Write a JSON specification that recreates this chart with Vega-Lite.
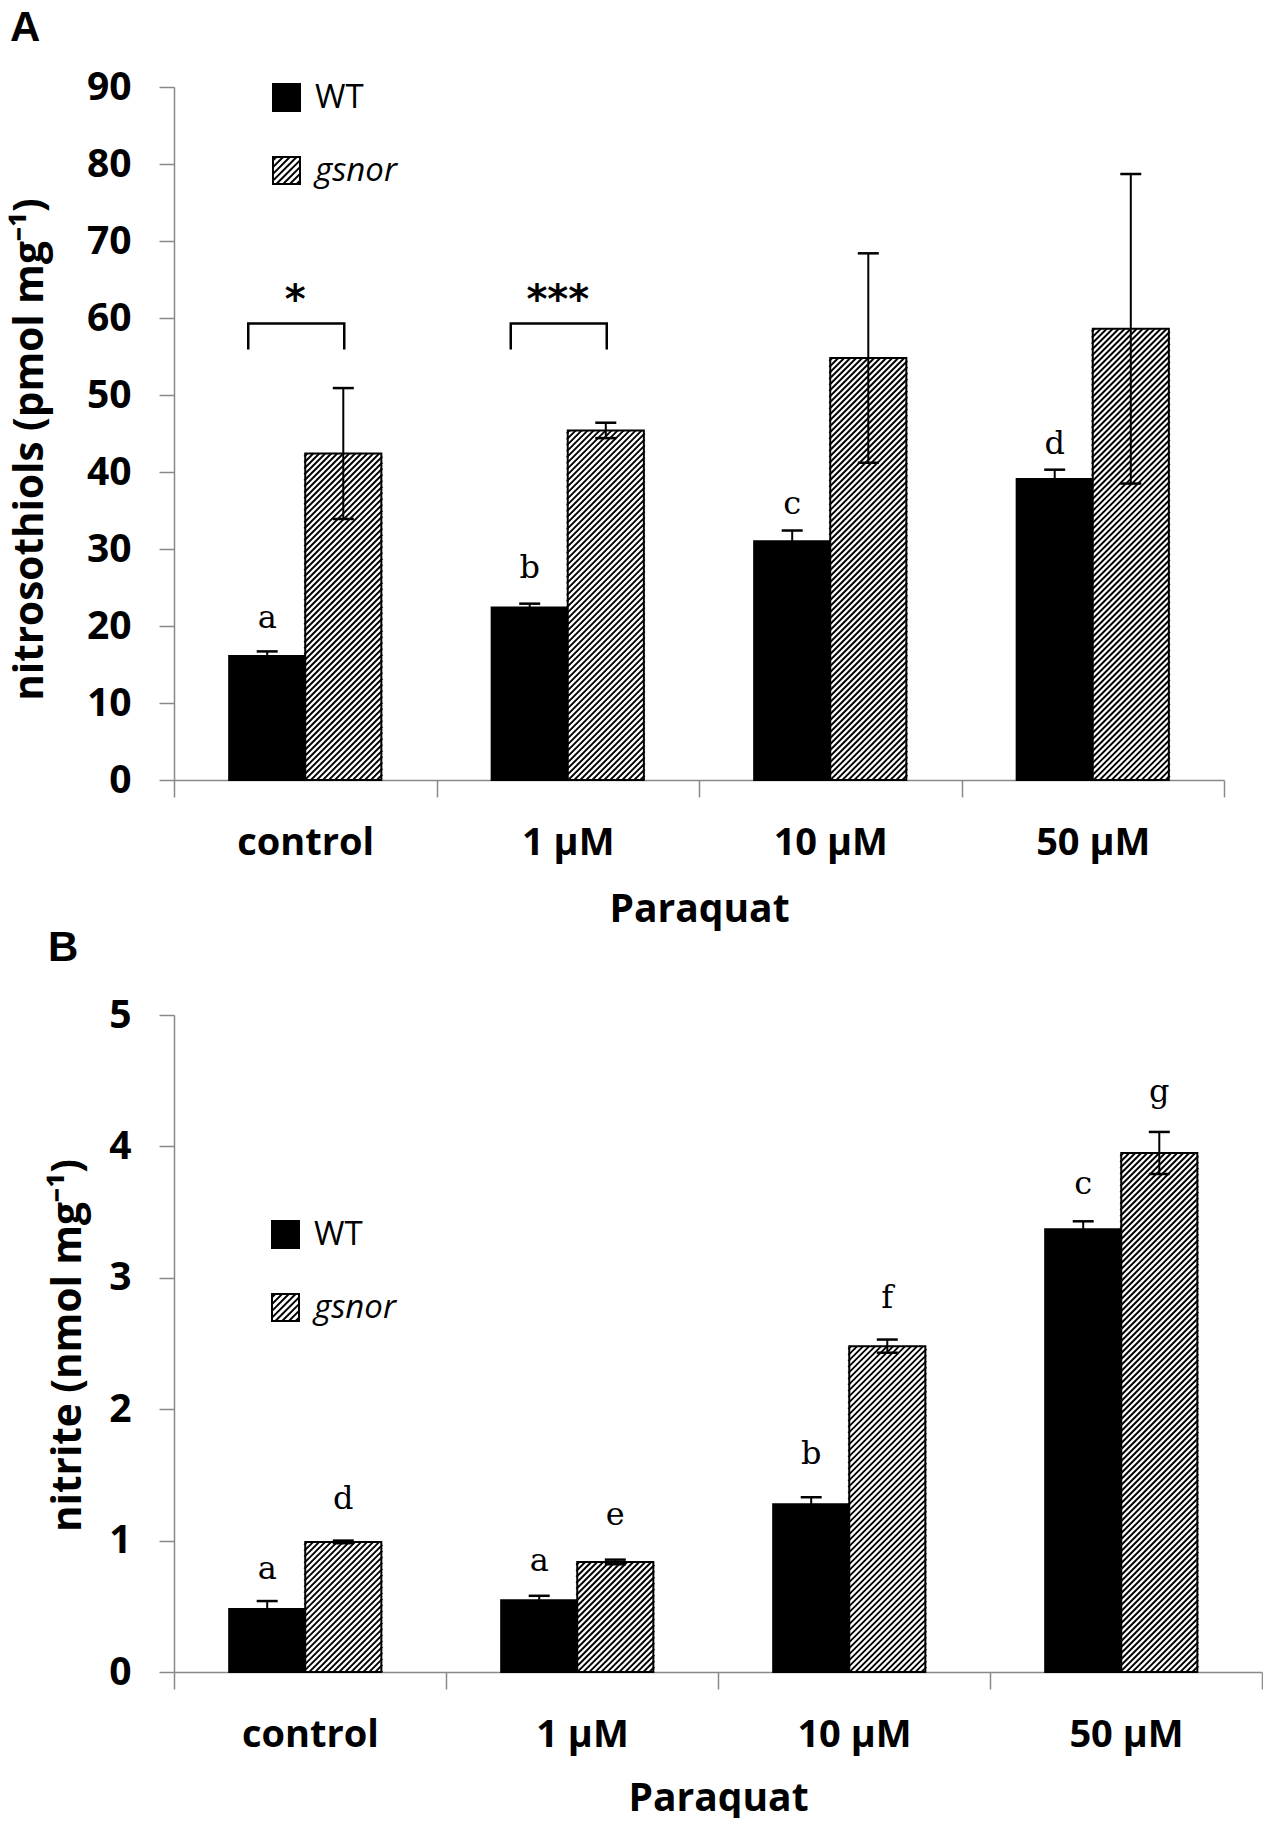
{
  "$schema": "https://vega.github.io/schema/vega-lite/v6.json",
  "background": "white",
  "padding": {"left": 10, "top": 7, "right": 0, "bottom": 0},
  "spacing": -2,
  "resolve": {"scale": {"fill": "independent"}, "legend": {"fill": "independent"}},
  "datasets": {
    "A": [
      {"cat": "control", "group": "WT", "value": 16.1, "lo": 15.5, "hi": 16.7, "letter": "a", "ly": 19.8},
      {"cat": "control", "group": "gsnor", "value": 42.4, "lo": 33.9, "hi": 50.9},
      {"cat": "1 µM", "group": "WT", "value": 22.4, "lo": 21.9, "hi": 22.9, "letter": "b", "ly": 26.2},
      {"cat": "1 µM", "group": "gsnor", "value": 45.4, "lo": 44.4, "hi": 46.4},
      {"cat": "10 µM", "group": "WT", "value": 31.0, "lo": 29.6, "hi": 32.4, "letter": "c", "ly": 34.5},
      {"cat": "10 µM", "group": "gsnor", "value": 54.8, "lo": 41.2, "hi": 68.4},
      {"cat": "50 µM", "group": "WT", "value": 39.1, "lo": 37.9, "hi": 40.3, "letter": "d", "ly": 42.3},
      {"cat": "50 µM", "group": "gsnor", "value": 58.6, "lo": 38.5, "hi": 78.7}
    ],
    "Asig": [
      {"cat": "control", "y": 59.3, "s": "*", "sy": 63.0},
      {"cat": "1 µM", "y": 59.3, "s": "***", "sy": 63.0}
    ],
    "B": [
      {"cat": "control", "group": "WT", "value": 0.48, "lo": 0.42, "hi": 0.54, "letter": "a", "ly": 0.71},
      {"cat": "control", "group": "gsnor", "value": 0.99, "lo": 0.98, "hi": 1.0, "letter": "d", "ly": 1.24},
      {"cat": "1 µM", "group": "WT", "value": 0.546, "lo": 0.51, "hi": 0.58, "letter": "a", "ly": 0.77},
      {"cat": "1 µM", "group": "gsnor", "value": 0.837, "lo": 0.82, "hi": 0.855, "letter": "e", "ly": 1.12},
      {"cat": "10 µM", "group": "WT", "value": 1.276, "lo": 1.22, "hi": 1.33, "letter": "b", "ly": 1.585},
      {"cat": "10 µM", "group": "gsnor", "value": 2.48, "lo": 2.43, "hi": 2.53, "letter": "f", "ly": 2.77},
      {"cat": "50 µM", "group": "WT", "value": 3.37, "lo": 3.31, "hi": 3.43, "letter": "c", "ly": 3.64},
      {"cat": "50 µM", "group": "gsnor", "value": 3.95, "lo": 3.79, "hi": 4.11, "letter": "g", "ly": 4.34}
    ]
  },
  "vconcat": [
    {
      "title": {"text": "A", "anchor": "start", "frame": "bounds", "font": "Liberation Sans", "fontSize": 42, "fontWeight": "bold", "color": "black", "offset": 18},
      "width": 1050,
      "height": 693,
      "layer": [
        {
          "data": {"name": "A"},
          "mark": {"type": "bar", "stroke": "black", "strokeWidth": 2},
          "encoding": {
            "x": {"field": "cat", "type": "nominal", "sort": ["control", "1 µM", "10 µM", "50 µM"], "scale": {"domain": ["control", "1 µM", "10 µM", "50 µM"], "paddingInner": 0, "paddingOuter": 0}, "axis": {"title": "Paraquat", "labelAngle": 0, "tickBand": "extent", "tickSize": 17, "labelPadding": 27, "titlePadding": 28}},
            "xOffset": {"field": "group", "type": "nominal", "sort": ["WT", "gsnor"], "scale": {"domain": ["WT", "gsnor"], "paddingInner": 0, "paddingOuter": 0.725}},
            "y": {"field": "value", "type": "quantitative", "title": "nitrosothiols (pmol mg⁻¹)", "scale": {"domain": [0, 90], "nice": false}, "axis": {"values": [0, 10, 20, 30, 40, 50, 60, 70, 80, 90], "format": "d", "tickSize": 15, "labelPadding": 28, "labelFontSize": 39, "titleX": -123, "titleY": 362, "titleFontSize": 40.5}},
            "fill": {"field": "group", "type": "nominal", "scale": {"domain": ["WT", "gsnor"], "range": ["black", "white"]},
              "legend": {"title": null, "orient": "none", "legendX": 96, "legendY": -6, "direction": "vertical", "padding": 0,
                "symbolType": "M-1,-1H1V1H-1Z M-0.75,-1L-1,-0.75 M-0.25,-1L-1,-0.25 M0.25,-1L-1,0.25 M0.75,-1L-1,0.75 M1,-0.75L-0.75,1 M1,-0.25L-0.25,1 M1,0.25L0.25,1 M1,0.75L0.75,1",
                "symbolSize": 729, "symbolStrokeColor": "black", "symbolStrokeWidth": 2, "labelFont": "Open Sans", "labelFontSize": 33, "labelColor": "black", "labelOffset": 12, "rowPadding": 38,
                "encode": {"labels": {"update": {"fontStyle": {"signal": "datum.value === 'gsnor' ? 'italic' : 'normal'"}}}}}}
          }
        },
        {
          "data": {"name": "A"},
          "transform": [{"filter": "datum.group === 'gsnor'"}],
          "mark": {"type": "point", "shape": "M-36,0L-39,3M-30,0L-39,9M-24,0L-39,15M-18,0L-39,21M-12,0L-39,27M-6,0L-39,33M0,0L-39,39M6,0L-39,45M12,0L-39,51M18,0L-39,57M24,0L-39,63M30,0L-39,69M36,0L-39,75M39,3L-39,81m78,-72l-78,78m78,-72l-78,78m78,-72l-78,78m78,-72l-78,78m78,-72l-78,78m78,-72l-78,78m78,-72l-78,78m78,-72l-78,78m78,-72l-78,78m78,-72l-78,78m78,-72l-78,78m78,-72l-78,78m78,-72l-78,78m78,-72l-78,78m78,-72l-78,78m78,-72l-78,78m78,-72l-78,78m78,-72l-78,78m78,-72l-78,78m78,-72l-78,78m78,-72l-78,78m78,-72l-78,78m78,-72l-78,78m78,-72l-78,78m78,-72l-78,78m78,-72l-78,78m78,-72l-78,78m78,-72l-78,78m78,-72l-78,78m78,-72l-78,78m78,-72l-78,78m78,-72l-78,78m78,-72l-78,78m78,-72l-78,78m78,-72l-78,78m78,-72l-78,78m78,-72l-78,78m78,-72l-78,78m78,-72l-78,78m78,-72l-78,78m78,-72l-78,78m78,-72l-78,78m78,-72l-78,78m78,-72l-78,78m78,-72l-78,78m78,-72l-78,78m78,-72l-78,78m78,-72l-78,78m78,-72l-78,78m78,-72l-78,78m78,-72l-78,78m78,-72l-78,78m78,-72l-78,78m78,-72l-78,78m78,-72l-78,78m78,-72l-78,78m78,-72l-78,78m78,-72l-78,78m78,-72l-78,78m78,-72l-78,78m78,-72l-78,78m78,-72l-78,78m78,-72l-78,78m78,-72l-78,78m78,-72l-78,78m78,-72l-78,78m78,-72l-78,78m78,-72l-78,78m78,-72l-78,78m78,-72l-78,78m78,-72l-78,78m78,-72l-78,78m78,-72l-78,78m78,-72l-78,78m78,-72l-78,78m78,-72l-78,78m78,-72l-78,78m78,-72l-78,78m78,-72l-78,78m78,-72l-78,78m78,-72l-78,78m78,-72l-78,78m78,-72l-78,78m78,-72l-78,78m78,-72l-78,78m78,-72l-78,78m78,-72l-78,78m78,-72l-78,78m78,-72l-78,78m78,-72l-78,78m78,-72l-78,78m78,-72l-78,78m78,-72l-78,78m78,-72l-78,78m78,-72l-78,78m78,-72l-78,78m78,-72l-78,78m78,-72l-78,78m78,-72l-78,78m78,-72l-78,78m78,-72l-78,78", "size": 4, "filled": false, "stroke": "black", "strokeWidth": 1.9, "opacity": 1, "clip": true},
          "encoding": {
            "x": {"field": "cat", "type": "nominal", "sort": ["control", "1 µM", "10 µM", "50 µM"], "scale": {"domain": ["control", "1 µM", "10 µM", "50 µM"]}},
            "xOffset": {"field": "group", "type": "nominal", "sort": ["WT", "gsnor"], "scale": {"domain": ["WT", "gsnor"]}},
            "y": {"field": "value", "type": "quantitative", "title": "nitrosothiols (pmol mg⁻¹)", "scale": {"domain": [0, 90]}}
          }
        },
        {
          "data": {"name": "A"},
          "mark": {"type": "rule", "stroke": "black", "strokeWidth": 2},
          "encoding": {
            "x": {"field": "cat", "type": "nominal", "sort": ["control", "1 µM", "10 µM", "50 µM"], "scale": {"domain": ["control", "1 µM", "10 µM", "50 µM"]}},
            "xOffset": {"field": "group", "type": "nominal", "sort": ["WT", "gsnor"], "scale": {"domain": ["WT", "gsnor"]}},
            "y": {"field": "lo", "type": "quantitative", "title": "nitrosothiols (pmol mg⁻¹)", "scale": {"domain": [0, 90]}},
            "y2": {"field": "hi"}
          }
        },
        {
          "data": {"name": "A"},
          "mark": {"type": "tick", "orient": "horizontal", "color": "black", "size": 21, "thickness": 2.5, "opacity": 1},
          "encoding": {
            "x": {"field": "cat", "type": "nominal", "sort": ["control", "1 µM", "10 µM", "50 µM"], "scale": {"domain": ["control", "1 µM", "10 µM", "50 µM"]}},
            "xOffset": {"field": "group", "type": "nominal", "sort": ["WT", "gsnor"], "scale": {"domain": ["WT", "gsnor"]}},
            "y": {"field": "hi", "type": "quantitative", "title": "nitrosothiols (pmol mg⁻¹)", "scale": {"domain": [0, 90]}}
          }
        },
        {
          "data": {"name": "A"},
          "mark": {"type": "tick", "orient": "horizontal", "color": "black", "size": 21, "thickness": 2.5, "opacity": 1},
          "encoding": {
            "x": {"field": "cat", "type": "nominal", "sort": ["control", "1 µM", "10 µM", "50 µM"], "scale": {"domain": ["control", "1 µM", "10 µM", "50 µM"]}},
            "xOffset": {"field": "group", "type": "nominal", "sort": ["WT", "gsnor"], "scale": {"domain": ["WT", "gsnor"]}},
            "y": {"field": "lo", "type": "quantitative", "title": "nitrosothiols (pmol mg⁻¹)", "scale": {"domain": [0, 90]}}
          }
        },
        {
          "data": {"name": "A"},
          "transform": [{"filter": "datum.letter"}],
          "mark": {"type": "text", "font": "DejaVu Serif", "fontSize": 32, "baseline": "alphabetic", "align": "center", "color": "black"},
          "encoding": {
            "x": {"field": "cat", "type": "nominal", "sort": ["control", "1 µM", "10 µM", "50 µM"], "scale": {"domain": ["control", "1 µM", "10 µM", "50 µM"]}},
            "xOffset": {"field": "group", "type": "nominal", "sort": ["WT", "gsnor"], "scale": {"domain": ["WT", "gsnor"]}},
            "y": {"field": "ly", "type": "quantitative", "title": "nitrosothiols (pmol mg⁻¹)", "scale": {"domain": [0, 90]}},
            "text": {"field": "letter"}
          }
        },
        {
          "data": {"name": "Asig"},
          "mark": {"type": "point", "shape": "M-57,26V0H39V26", "size": 4, "filled": false, "stroke": "black", "strokeWidth": 2.5, "opacity": 1},
          "encoding": {
            "x": {"field": "cat", "type": "nominal", "sort": ["control", "1 µM", "10 µM", "50 µM"], "scale": {"domain": ["control", "1 µM", "10 µM", "50 µM"]}},
            "y": {"field": "y", "type": "quantitative", "title": "nitrosothiols (pmol mg⁻¹)", "scale": {"domain": [0, 90]}}
          }
        },
        {
          "data": {"name": "Asig"},
          "mark": {"type": "text", "font": "DejaVu Sans", "fontWeight": "bold", "fontSize": 40, "baseline": "middle", "align": "center", "dx": -10, "dy": 6, "color": "black"},
          "encoding": {
            "x": {"field": "cat", "type": "nominal", "sort": ["control", "1 µM", "10 µM", "50 µM"], "scale": {"domain": ["control", "1 µM", "10 µM", "50 µM"]}},
            "y": {"field": "sy", "type": "quantitative", "title": "nitrosothiols (pmol mg⁻¹)", "scale": {"domain": [0, 90]}},
            "text": {"field": "s"}
          }
        }
      ]
    },
    {
      "title": {"text": "B", "anchor": "start", "frame": "bounds", "font": "Liberation Sans", "fontSize": 42, "fontWeight": "bold", "color": "black", "offset": 26},
      "width": 1088,
      "height": 657,
      "layer": [
        {
          "data": {"name": "B"},
          "mark": {"type": "bar", "stroke": "black", "strokeWidth": 2},
          "encoding": {
            "x": {"field": "cat", "type": "nominal", "sort": ["control", "1 µM", "10 µM", "50 µM"], "scale": {"domain": ["control", "1 µM", "10 µM", "50 µM"], "paddingInner": 0, "paddingOuter": 0}, "axis": {"title": "Paraquat", "labelAngle": 0, "tickBand": "extent", "tickSize": 17, "labelPadding": 27, "titlePadding": 25}},
            "xOffset": {"field": "group", "type": "nominal", "sort": ["WT", "gsnor"], "scale": {"domain": ["WT", "gsnor"], "paddingInner": 0, "paddingOuter": 0.725}},
            "y": {"field": "value", "type": "quantitative", "title": "nitrite (nmol mg⁻¹)", "scale": {"domain": [0, 5], "nice": false}, "axis": {"values": [0, 1, 2, 3, 4, 5], "format": "d", "tickSize": 15, "labelPadding": 28, "labelFontSize": 39, "titleX": -85, "titleY": 330, "titleFontSize": 40.5}},
            "fill": {"field": "group", "type": "nominal", "scale": {"domain": ["WT", "gsnor"], "range": ["black", "white"]},
              "legend": {"title": null, "orient": "none", "legendX": 95, "legendY": 203, "direction": "vertical", "padding": 0,
                "symbolType": "M-1,-1H1V1H-1Z M-0.75,-1L-1,-0.75 M-0.25,-1L-1,-0.25 M0.25,-1L-1,0.25 M0.75,-1L-1,0.75 M1,-0.75L-0.75,1 M1,-0.25L-0.25,1 M1,0.25L0.25,1 M1,0.75L0.75,1",
                "symbolSize": 729, "symbolStrokeColor": "black", "symbolStrokeWidth": 2, "labelFont": "Open Sans", "labelFontSize": 33, "labelColor": "black", "labelOffset": 12, "rowPadding": 38,
                "encode": {"labels": {"update": {"fontStyle": {"signal": "datum.value === 'gsnor' ? 'italic' : 'normal'"}}}}}}
          }
        },
        {
          "data": {"name": "B"},
          "transform": [{"filter": "datum.group === 'gsnor'"}],
          "mark": {"type": "point", "shape": "M-36,0L-39,3M-30,0L-39,9M-24,0L-39,15M-18,0L-39,21M-12,0L-39,27M-6,0L-39,33M0,0L-39,39M6,0L-39,45M12,0L-39,51M18,0L-39,57M24,0L-39,63M30,0L-39,69M36,0L-39,75M39,3L-39,81m78,-72l-78,78m78,-72l-78,78m78,-72l-78,78m78,-72l-78,78m78,-72l-78,78m78,-72l-78,78m78,-72l-78,78m78,-72l-78,78m78,-72l-78,78m78,-72l-78,78m78,-72l-78,78m78,-72l-78,78m78,-72l-78,78m78,-72l-78,78m78,-72l-78,78m78,-72l-78,78m78,-72l-78,78m78,-72l-78,78m78,-72l-78,78m78,-72l-78,78m78,-72l-78,78m78,-72l-78,78m78,-72l-78,78m78,-72l-78,78m78,-72l-78,78m78,-72l-78,78m78,-72l-78,78m78,-72l-78,78m78,-72l-78,78m78,-72l-78,78m78,-72l-78,78m78,-72l-78,78m78,-72l-78,78m78,-72l-78,78m78,-72l-78,78m78,-72l-78,78m78,-72l-78,78m78,-72l-78,78m78,-72l-78,78m78,-72l-78,78m78,-72l-78,78m78,-72l-78,78m78,-72l-78,78m78,-72l-78,78m78,-72l-78,78m78,-72l-78,78m78,-72l-78,78m78,-72l-78,78m78,-72l-78,78m78,-72l-78,78m78,-72l-78,78m78,-72l-78,78m78,-72l-78,78m78,-72l-78,78m78,-72l-78,78m78,-72l-78,78m78,-72l-78,78m78,-72l-78,78m78,-72l-78,78m78,-72l-78,78m78,-72l-78,78m78,-72l-78,78m78,-72l-78,78m78,-72l-78,78m78,-72l-78,78m78,-72l-78,78m78,-72l-78,78m78,-72l-78,78m78,-72l-78,78m78,-72l-78,78m78,-72l-78,78m78,-72l-78,78m78,-72l-78,78m78,-72l-78,78m78,-72l-78,78m78,-72l-78,78m78,-72l-78,78m78,-72l-78,78m78,-72l-78,78m78,-72l-78,78m78,-72l-78,78m78,-72l-78,78m78,-72l-78,78m78,-72l-78,78m78,-72l-78,78m78,-72l-78,78m78,-72l-78,78m78,-72l-78,78m78,-72l-78,78m78,-72l-78,78m78,-72l-78,78m78,-72l-78,78m78,-72l-78,78m78,-72l-78,78m78,-72l-78,78m78,-72l-78,78m78,-72l-78,78m78,-72l-78,78m78,-72l-78,78m78,-72l-78,78m78,-72l-78,78m78,-72l-78,78m78,-72l-78,78m78,-72l-78,78", "size": 4, "filled": false, "stroke": "black", "strokeWidth": 1.9, "opacity": 1, "clip": true},
          "encoding": {
            "x": {"field": "cat", "type": "nominal", "sort": ["control", "1 µM", "10 µM", "50 µM"], "scale": {"domain": ["control", "1 µM", "10 µM", "50 µM"]}},
            "xOffset": {"field": "group", "type": "nominal", "sort": ["WT", "gsnor"], "scale": {"domain": ["WT", "gsnor"]}},
            "y": {"field": "value", "type": "quantitative", "title": "nitrite (nmol mg⁻¹)", "scale": {"domain": [0, 5]}}
          }
        },
        {
          "data": {"name": "B"},
          "mark": {"type": "rule", "stroke": "black", "strokeWidth": 2},
          "encoding": {
            "x": {"field": "cat", "type": "nominal", "sort": ["control", "1 µM", "10 µM", "50 µM"], "scale": {"domain": ["control", "1 µM", "10 µM", "50 µM"]}},
            "xOffset": {"field": "group", "type": "nominal", "sort": ["WT", "gsnor"], "scale": {"domain": ["WT", "gsnor"]}},
            "y": {"field": "lo", "type": "quantitative", "title": "nitrite (nmol mg⁻¹)", "scale": {"domain": [0, 5]}},
            "y2": {"field": "hi"}
          }
        },
        {
          "data": {"name": "B"},
          "mark": {"type": "tick", "orient": "horizontal", "color": "black", "size": 21, "thickness": 2.5, "opacity": 1},
          "encoding": {
            "x": {"field": "cat", "type": "nominal", "sort": ["control", "1 µM", "10 µM", "50 µM"], "scale": {"domain": ["control", "1 µM", "10 µM", "50 µM"]}},
            "xOffset": {"field": "group", "type": "nominal", "sort": ["WT", "gsnor"], "scale": {"domain": ["WT", "gsnor"]}},
            "y": {"field": "hi", "type": "quantitative", "title": "nitrite (nmol mg⁻¹)", "scale": {"domain": [0, 5]}}
          }
        },
        {
          "data": {"name": "B"},
          "mark": {"type": "tick", "orient": "horizontal", "color": "black", "size": 21, "thickness": 2.5, "opacity": 1},
          "encoding": {
            "x": {"field": "cat", "type": "nominal", "sort": ["control", "1 µM", "10 µM", "50 µM"], "scale": {"domain": ["control", "1 µM", "10 µM", "50 µM"]}},
            "xOffset": {"field": "group", "type": "nominal", "sort": ["WT", "gsnor"], "scale": {"domain": ["WT", "gsnor"]}},
            "y": {"field": "lo", "type": "quantitative", "title": "nitrite (nmol mg⁻¹)", "scale": {"domain": [0, 5]}}
          }
        },
        {
          "data": {"name": "B"},
          "transform": [{"filter": "datum.letter"}],
          "mark": {"type": "text", "font": "DejaVu Serif", "fontSize": 32, "baseline": "alphabetic", "align": "center", "color": "black"},
          "encoding": {
            "x": {"field": "cat", "type": "nominal", "sort": ["control", "1 µM", "10 µM", "50 µM"], "scale": {"domain": ["control", "1 µM", "10 µM", "50 µM"]}},
            "xOffset": {"field": "group", "type": "nominal", "sort": ["WT", "gsnor"], "scale": {"domain": ["WT", "gsnor"]}},
            "y": {"field": "ly", "type": "quantitative", "title": "nitrite (nmol mg⁻¹)", "scale": {"domain": [0, 5]}},
            "text": {"field": "letter"}
          }
        }
      ]
    }
  ],
  "config": {
    "view": {"stroke": null},
    "font": "Open Sans",
    "axis": {"domainColor": "#898989", "tickColor": "#898989", "domainWidth": 1.5, "tickWidth": 1.5, "grid": false, "labelFont": "Open Sans", "labelFontWeight": "bold", "labelFontSize": 38, "labelColor": "black", "titleFont": "Open Sans", "titleFontWeight": "bold", "titleFontSize": 39, "titleColor": "black"}
  }
}
